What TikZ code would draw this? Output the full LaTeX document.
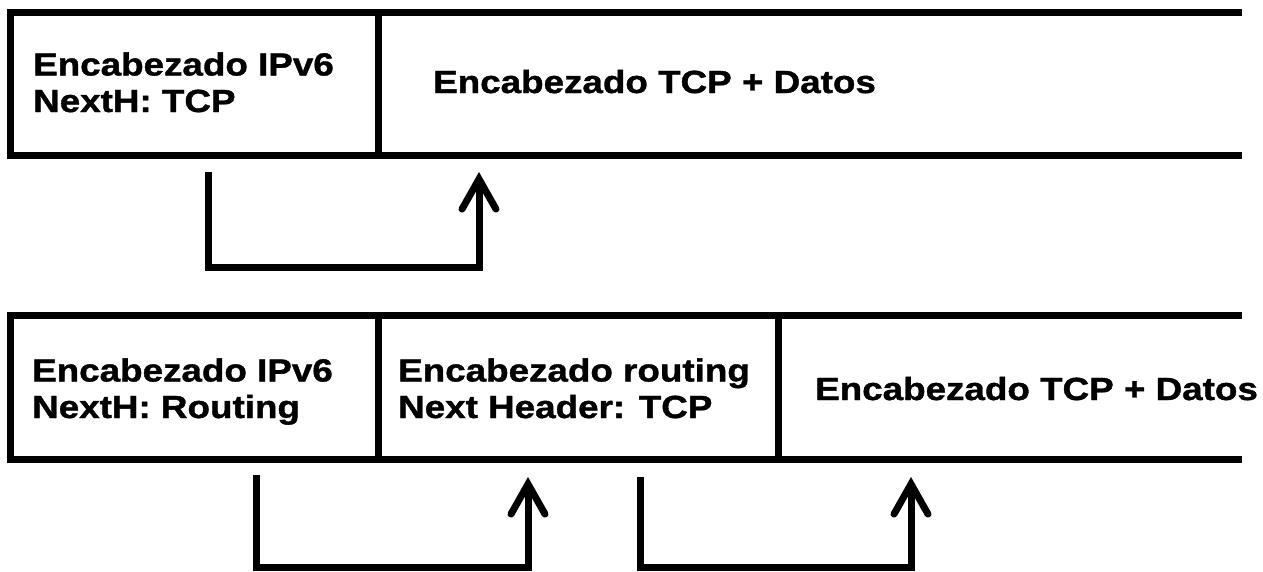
\documentclass[tikz,border=0pt]{standalone}
\usepackage{fontspec}
\newfontfamily\lblfont[FakeStretch=1.15, FakeBold=1.2]{Liberation Sans Bold}
\usetikzlibrary{arrows.meta}

\tikzset{
  frame/.style={line width=7pt, line join=miter, line cap=butt},
  label/.style={font=\lblfont\fontsize{32}{36.5}\selectfont, align=left, inner sep=0pt},
  link/.style={line width=7pt, line join=miter, line cap=butt,
    -{Straight Barb[length=30pt, width=34pt, line cap=round, line join=miter]}}
}

\begin{document}
\begin{tikzpicture}[x=1pt, y=-1pt]
  \useasboundingbox (0,0) rectangle (1263,571);

  % upper datagram: IPv6 header followed directly by TCP
  \draw[frame] (1242,12) -- (10,12) -- (10,155) -- (1242,155);
  \draw[frame] (378,12) -- (378,155);
  \node[label, anchor=base west] (ipA) at (33,112) {Encabezado IPv6\\NextH: TCP};
  \node[label, anchor=base west] (tcpA) at (433,93) {Encabezado TCP + Datos};

  % lower datagram: IPv6 header, routing header, then TCP
  \draw[frame] (1242,315.5) -- (10,315.5) -- (10,459) -- (1242,459);
  \draw[frame] (378,315.5) -- (378,459);
  \draw[frame] (778,315.5) -- (778,459);
  \node[label, anchor=base west] (ipB) at (32,418) {Encabezado IPv6\\NextH: Routing};
  \node[label, anchor=base west] (rtB) at (398,418) {Encabezado routing\\Next Header: TCP};
  \node[label, anchor=base west] (tcpB) at (815,400) {Encabezado TCP + Datos};

  % next-header chains
  \coordinate (s1) at (208,172);  \coordinate (e1) at (479,172);  \coordinate (b1) at (0,267);
  \coordinate (s2) at (256,475);  \coordinate (e2) at (528,477);  \coordinate (b2) at (0,567.5);
  \coordinate (s3) at (640,477);  \coordinate (e3) at (911,477);

  \draw[link] (s1) -- (s1 |- b1) -- (e1 |- b1) -- (e1);
  \draw[link] (s2) -- (s2 |- b2) -- (e2 |- b2) -- (e2);
  \draw[link] (s3) -- (s3 |- b2) -- (e3 |- b2) -- (e3);
\end{tikzpicture}
\end{document}
